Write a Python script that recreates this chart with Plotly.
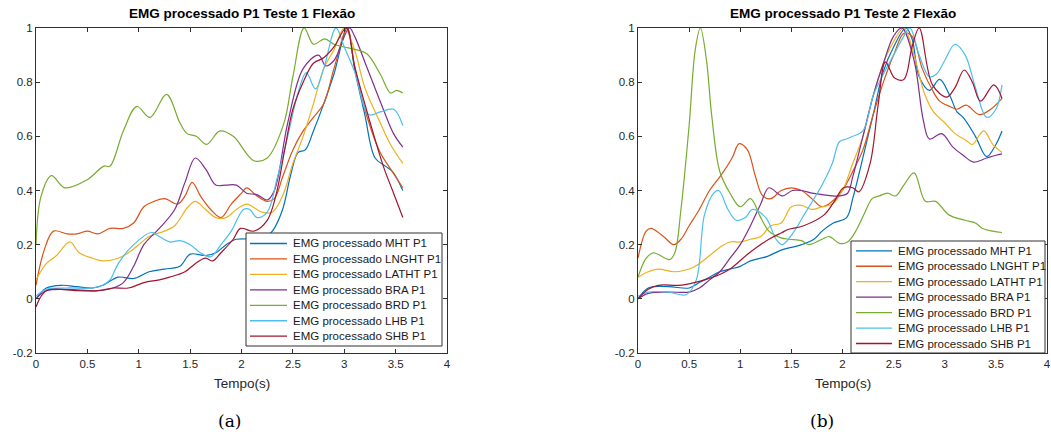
import plotly.graph_objects as go

# ---------------- DATA ----------------
series_names = ["EMG processado MHT P1", "EMG processado LNGHT P1", "EMG processado LATHT P1",
                "EMG processado BRA P1", "EMG processado BRD P1", "EMG processado LHB P1",
                "EMG processado SHB P1"]
series_colors = ["#0072BD", "#D95319", "#EDB120", "#7E2F8E", "#77AC30", "#4DBEEE", "#A2142F"]

x_ticks = [0, 0.5, 1, 1.5, 2, 2.5, 3, 3.5, 4]
x_ticktext = ["0", "0.5", "1", "1.5", "2", "2.5", "3", "3.5", "4"]
y_ticks = [-0.2, 0, 0.2, 0.4, 0.6, 0.8, 1]
y_ticktext = ["-0.2", "0", "0.2", "0.4", "0.6", "0.8", "1"]

# Test 1
t1_mht = [0, 0.1, 0.25, 0.4, 0.55, 0.65, 0.8, 0.95, 1.1, 1.25, 1.4, 1.5, 1.65, 1.75, 1.85, 1.95, 2.1, 2.2, 2.3, 2.4, 2.48, 2.55, 2.62, 2.7, 2.8, 2.9, 3.03, 3.1, 3.2, 3.3, 3.4, 3.47, 3.57]
y1_mht = [0, 0.04, 0.05, 0.045, 0.04, 0.05, 0.08, 0.075, 0.1, 0.11, 0.12, 0.165, 0.16, 0.17, 0.2, 0.22, 0.22, 0.22, 0.25, 0.33, 0.46, 0.54, 0.55, 0.62, 0.72, 0.83, 1.0, 0.85, 0.68, 0.52, 0.49, 0.47, 0.4]
t1_lnght = [0, 0.08, 0.17, 0.3, 0.4, 0.5, 0.6, 0.72, 0.85, 0.95, 1.05, 1.15, 1.25, 1.38, 1.45, 1.52, 1.6, 1.7, 1.8, 1.9, 2.0, 2.05, 2.15, 2.25, 2.32, 2.4, 2.5, 2.6, 2.7, 2.8, 2.9, 3.03, 3.1, 3.2, 3.35, 3.45, 3.57]
y1_lnght = [0.05, 0.18, 0.25, 0.24, 0.24, 0.25, 0.24, 0.26, 0.26, 0.28, 0.34, 0.36, 0.37, 0.35, 0.38, 0.43, 0.38, 0.33, 0.3, 0.35, 0.39, 0.41, 0.38, 0.36, 0.37, 0.45, 0.55, 0.62, 0.67, 0.72, 0.85, 1.0, 0.86, 0.7, 0.54, 0.48, 0.41]
t1_latht = [0, 0.1, 0.2, 0.33, 0.42, 0.55, 0.65, 0.8, 0.9, 1.0, 1.1, 1.25, 1.35, 1.48, 1.55, 1.65, 1.75, 1.85, 1.95, 2.05, 2.2, 2.3, 2.4, 2.5, 2.6, 2.7, 2.8, 2.9, 3.0, 3.1, 3.2, 3.35, 3.45, 3.57]
y1_latht = [0.07, 0.13, 0.16, 0.21, 0.17, 0.15, 0.14, 0.15, 0.17, 0.2, 0.23, 0.25, 0.27, 0.34, 0.36, 0.33, 0.3, 0.3, 0.33, 0.35, 0.32, 0.32, 0.38, 0.5, 0.6, 0.72, 0.85, 0.92, 1.0, 0.92, 0.78, 0.65, 0.57, 0.5]
t1_bra = [0, 0.1, 0.3, 0.6, 0.75, 0.85, 0.95, 1.05, 1.2, 1.35, 1.45, 1.55, 1.65, 1.75, 1.85, 1.95, 2.05, 2.15, 2.25, 2.32, 2.45, 2.6, 2.75, 2.82, 2.9, 3.05, 3.1, 3.22, 3.38, 3.48, 3.57]
y1_bra = [0, 0.03, 0.035, 0.03, 0.04, 0.06, 0.12, 0.2, 0.26, 0.33, 0.43, 0.52, 0.48, 0.42, 0.42, 0.42, 0.39, 0.385, 0.365, 0.4, 0.65, 0.85, 0.9, 0.86, 0.88, 1.0, 0.97, 0.855, 0.7, 0.61, 0.56]
t1_brd = [0, 0.05, 0.15, 0.28, 0.5, 0.66, 0.72, 0.85, 0.98, 1.11, 1.27, 1.4, 1.47, 1.56, 1.66, 1.79, 1.92, 2.12, 2.25, 2.41, 2.5, 2.61, 2.7, 2.81, 2.9, 3.0, 3.11, 3.22, 3.35, 3.45, 3.51, 3.57]
y1_brd = [0.2, 0.38, 0.455, 0.41, 0.44, 0.49, 0.49, 0.62, 0.71, 0.67, 0.755, 0.65, 0.61, 0.6, 0.57, 0.62, 0.6, 0.51, 0.52, 0.645, 0.82, 1.0, 0.94, 0.96, 0.94, 0.93, 0.92, 0.905, 0.83, 0.76, 0.77, 0.76]
t1_lhb = [0, 0.1, 0.3, 0.55, 0.65, 0.72, 0.8, 0.95, 1.12, 1.2, 1.3, 1.4, 1.5, 1.6, 1.7, 1.8, 1.9, 2.02, 2.08, 2.15, 2.25, 2.35, 2.45, 2.55, 2.63, 2.72, 2.8, 2.92, 3.0, 3.1, 3.24, 3.35, 3.48, 3.57]
y1_lhb = [0.01, 0.035, 0.04, 0.04, 0.05, 0.07, 0.13, 0.2, 0.245, 0.23, 0.21, 0.215, 0.2, 0.17, 0.155, 0.2, 0.25, 0.33, 0.33, 0.3, 0.32, 0.45, 0.6, 0.76, 0.835, 0.775, 0.85, 1.0, 0.93, 0.84, 0.68, 0.69, 0.7, 0.64]
t1_shb = [0, 0.1, 0.4, 0.6, 0.75, 0.9, 1.05, 1.2, 1.3, 1.45, 1.55, 1.65, 1.72, 1.8, 1.92, 1.99, 2.12, 2.25, 2.34, 2.42, 2.5, 2.6, 2.7, 2.8, 2.9, 3.02, 3.1, 3.2, 3.38, 3.47, 3.57]
y1_shb = [-0.03, 0.03, 0.03, 0.03, 0.04, 0.04, 0.06, 0.07, 0.08, 0.1, 0.13, 0.15, 0.14, 0.17, 0.22, 0.26, 0.25, 0.29, 0.39, 0.55, 0.7, 0.8, 0.87, 0.89, 0.93, 1.0, 0.86, 0.72, 0.49, 0.4, 0.3]

# Test 2
t2_mht = [0, 0.1, 0.3, 0.5, 0.6, 0.7, 0.8, 0.9, 1.0, 1.1, 1.26, 1.4, 1.5, 1.6, 1.72, 1.8, 1.91, 2.04, 2.1, 2.17, 2.3, 2.4, 2.5, 2.62, 2.68, 2.75, 2.85, 2.95, 3.05, 3.12, 3.18, 3.3, 3.41, 3.5, 3.56]
y2_mht = [0, 0.04, 0.045, 0.04, 0.06, 0.08, 0.1, 0.11, 0.12, 0.14, 0.156, 0.18, 0.19, 0.2, 0.22, 0.25, 0.28, 0.3, 0.37, 0.475, 0.68, 0.84, 0.93, 1.0, 0.96, 0.82, 0.77, 0.81, 0.75, 0.69, 0.67, 0.6, 0.525, 0.57, 0.62]
t2_lnght = [0, 0.08, 0.13, 0.25, 0.35, 0.42, 0.5, 0.6, 0.7, 0.8, 0.92, 0.99, 1.07, 1.15, 1.22, 1.3, 1.4, 1.5, 1.6, 1.7, 1.8, 1.9, 2.0, 2.1, 2.2, 2.3, 2.4, 2.5, 2.6, 2.68, 2.78, 2.88, 2.95, 3.05, 3.12, 3.21, 3.34, 3.45, 3.56]
y2_lnght = [0.15, 0.25, 0.26, 0.23, 0.2, 0.22, 0.27, 0.33, 0.4, 0.45, 0.52, 0.573, 0.55, 0.45, 0.38, 0.37, 0.4, 0.41, 0.4, 0.37, 0.34, 0.36, 0.4, 0.47, 0.55, 0.68, 0.8, 0.9, 0.98, 0.97, 0.85, 0.77, 0.73, 0.71, 0.7, 0.715, 0.68, 0.7, 0.74]
t2_latht = [0, 0.1, 0.2, 0.35, 0.5, 0.6, 0.7, 0.8, 0.9, 1.0, 1.1, 1.2, 1.3, 1.4, 1.5, 1.6, 1.7, 1.8, 1.9, 2.0, 2.1, 2.2, 2.3, 2.4, 2.5, 2.6, 2.7, 2.8, 2.89, 3.0, 3.1, 3.21, 3.27, 3.38, 3.47, 3.56]
y2_latht = [0.08, 0.1, 0.11, 0.1, 0.11, 0.13, 0.16, 0.19, 0.21, 0.21, 0.22, 0.23, 0.27, 0.28, 0.34, 0.345, 0.33, 0.34, 0.35, 0.4, 0.5, 0.6, 0.75, 0.87, 0.95, 1.0, 0.9, 0.76, 0.69, 0.65, 0.61, 0.585, 0.57, 0.62, 0.57, 0.54]
t2_bra = [0, 0.1, 0.3, 0.5, 0.6, 0.7, 0.8, 0.9, 1.0, 1.1, 1.2, 1.28, 1.41, 1.51, 1.6, 1.7, 1.8, 1.97, 2.05, 2.1, 2.2, 2.3, 2.4, 2.5, 2.58, 2.7, 2.79, 2.85, 2.97, 3.08, 3.18, 3.28, 3.41, 3.5, 3.56]
y2_bra = [0, 0.02, 0.025, 0.025, 0.04, 0.07, 0.1, 0.15, 0.2, 0.27, 0.35, 0.41, 0.38, 0.4, 0.4, 0.39, 0.385, 0.38, 0.39, 0.45, 0.6, 0.75, 0.87, 0.97, 1.0, 0.88, 0.66, 0.59, 0.61, 0.56, 0.53, 0.505, 0.52, 0.53, 0.535]
t2_brd = [0, 0.08, 0.15, 0.31, 0.36, 0.42, 0.5, 0.56, 0.61, 0.67, 0.72, 0.8, 0.9, 1.0, 1.1, 1.2, 1.28, 1.4, 1.48, 1.6, 1.67, 1.8, 1.87, 1.97, 2.05, 2.13, 2.22, 2.29, 2.36, 2.44, 2.52, 2.6, 2.7, 2.81, 2.91, 3.04, 3.2, 3.3, 3.37, 3.47, 3.56]
y2_brd = [0.08, 0.15, 0.17, 0.145, 0.17, 0.33, 0.64, 0.92, 1.0, 0.88, 0.68, 0.47, 0.39, 0.34, 0.37, 0.3, 0.25, 0.225, 0.22, 0.215, 0.2, 0.22, 0.23, 0.205, 0.21, 0.25, 0.32, 0.37, 0.38, 0.39, 0.38, 0.42, 0.465, 0.36, 0.36, 0.31, 0.29, 0.28, 0.26, 0.25, 0.245]
t2_lhb = [0, 0.1, 0.3, 0.47, 0.57, 0.65, 0.74, 0.79, 0.88, 0.96, 1.05, 1.12, 1.25, 1.35, 1.41, 1.51, 1.64, 1.8, 1.9, 1.97, 2.04, 2.1, 2.2, 2.3, 2.4, 2.5, 2.6, 2.66, 2.75, 2.85, 2.92, 3.0, 3.1, 3.2, 3.3, 3.41, 3.5, 3.56]
y2_lhb = [0.01, 0.025, 0.025, 0.015, 0.07, 0.31, 0.39, 0.4, 0.33, 0.29, 0.3, 0.33, 0.3, 0.22, 0.2, 0.24, 0.32, 0.42, 0.5, 0.58, 0.59, 0.6, 0.62, 0.75, 0.83, 0.9, 0.97, 1.0, 0.9, 0.82, 0.83, 0.88, 0.94, 0.9, 0.78, 0.67, 0.7, 0.79]
t2_shb = [0, 0.1, 0.2, 0.4, 0.55, 0.65, 0.8, 0.9, 1.09, 1.28, 1.41, 1.46, 1.62, 1.82, 1.92, 2.01, 2.1, 2.16, 2.27, 2.35, 2.42, 2.51, 2.6, 2.68, 2.75, 2.88, 3.02, 3.1, 3.19, 3.27, 3.35, 3.48, 3.56]
y2_shb = [0, 0.035, 0.05, 0.05, 0.06, 0.07, 0.09, 0.11, 0.17, 0.22, 0.245, 0.255, 0.27, 0.31, 0.36, 0.41, 0.41, 0.395, 0.5, 0.72, 0.875, 0.815, 0.81, 0.93, 1.0, 0.79, 0.745, 0.78, 0.845, 0.8, 0.73, 0.79, 0.74]

test1 = [(t1_mht, y1_mht), (t1_lnght, y1_lnght), (t1_latht, y1_latht), (t1_bra, y1_bra),
         (t1_brd, y1_brd), (t1_lhb, y1_lhb), (t1_shb, y1_shb)]
test2 = [(t2_mht, y2_mht), (t2_lnght, y2_lnght), (t2_latht, y2_latht), (t2_bra, y2_bra),
         (t2_brd, y2_brd), (t2_lhb, y2_lhb), (t2_shb, y2_shb)]

titles = ["EMG processado P1 Teste 1 Flexão", "EMG processado P1 Teste 2 Flexão"]
xlabel = "Tempo(s)"
panel_labels = ["(a)", "(b)"]

# ---------------- LAYOUT ----------------
W, H = 1051, 446
def px(x):
    return x / W
def py(y):
    return 1 - y / H

panels = [
    dict(left=36, right=447, top=28, bottom=353, leg=(246, 442, 233, 346), leg_y0=243.5,
         leg_line=(250, 287), leg_text=291, label_x=229),
    dict(left=638, right=1047, top=28, bottom=353, leg=(851, 1045, 241, 353), leg_y0=250.8,
         leg_line=(856, 892), leg_text=896, label_x=822),
]
LEG_STEP = 15.45
AX_COL = "#303030"
FONT = "Liberation Sans, Arial, sans-serif"

fig = go.Figure()
for k, data in enumerate([test1, test2]):
    xa = "x" if k == 0 else "x2"
    ya = "y" if k == 0 else "y2"
    for (t, y), name, col in zip(data, series_names, series_colors):
        fig.add_trace(go.Scatter(x=t, y=y, mode="lines", name=name, showlegend=False,
                                 line=dict(color=col, width=1.2, shape="spline", smoothing=1.0),
                                 xaxis=xa, yaxis=ya, hoverinfo="skip"))

axis_common = dict(showgrid=False, zeroline=False, showline=True, linecolor=AX_COL, linewidth=1,
                   mirror="allticks", ticks="inside", ticklen=4, tickcolor=AX_COL, tickwidth=1,
                   tickfont=dict(family=FONT, size=11.5, color="#262626"), automargin=False)

layout = dict(width=W, height=H, margin=dict(l=0, r=0, t=0, b=0),
              paper_bgcolor="white", plot_bgcolor="white", showlegend=False)
shapes = []
annotations = []
for k, p in enumerate(panels):
    sfx = "" if k == 0 else "2"
    layout["xaxis" + sfx] = dict(axis_common, domain=[px(p["left"]), px(p["right"])], range=[0, 4],
                                 tickvals=x_ticks, ticktext=x_ticktext,
                                 anchor="y" + sfx)
    layout["yaxis" + sfx] = dict(axis_common, domain=[py(p["bottom"]), py(p["top"])], range=[-0.2, 1],
                                 tickvals=y_ticks, ticktext=y_ticktext,
                                 anchor="x" + sfx)
    cx = (p["left"] + p["right"]) / 2
    annotations.append(dict(text="<b>" + titles[k] + "</b>", x=px(cx), y=py(14), xref="paper", yref="paper",
                            showarrow=False, xanchor="center", yanchor="middle",
                            font=dict(family=FONT, size=13.5, color="black")))
    annotations.append(dict(text=xlabel, x=px(cx), y=py(383), xref="paper", yref="paper",
                            showarrow=False, xanchor="center", yanchor="middle",
                            font=dict(family=FONT, size=13.5, color="#262626")))
    annotations.append(dict(text=panel_labels[k], x=px(p["label_x"]), y=py(421), xref="paper", yref="paper",
                            showarrow=False, xanchor="center", yanchor="middle",
                            font=dict(family="DejaVu Serif, Liberation Serif, serif", size=17, color="black")))
    # legend box
    lx0, lx1, ly0, ly1 = p["leg"]
    shapes.append(dict(type="rect", xref="paper", yref="paper", x0=px(lx0), x1=px(lx1), y0=py(ly1), y1=py(ly0),
                       line=dict(color=AX_COL, width=1), fillcolor="white", layer="above"))
    for i, (name, col) in enumerate(zip(series_names, series_colors)):
        yy = p["leg_y0"] + i * LEG_STEP
        shapes.append(dict(type="line", xref="paper", yref="paper", x0=px(p["leg_line"][0]), x1=px(p["leg_line"][1]),
                           y0=py(yy), y1=py(yy), line=dict(color=col, width=1.3), layer="above"))
        annotations.append(dict(text=name, x=px(p["leg_text"]), y=py(yy), xref="paper", yref="paper",
                                showarrow=False, xanchor="left", yanchor="middle",
                                font=dict(family=FONT, size=11.5, color="#1a1a1a")))

layout["shapes"] = shapes
layout["annotations"] = annotations
fig.update_layout(**layout)
fig.write_html("out.html", config={"displayModeBar": False},
               post_script="document.body.style.margin='0';document.body.style.overflow='hidden';")
